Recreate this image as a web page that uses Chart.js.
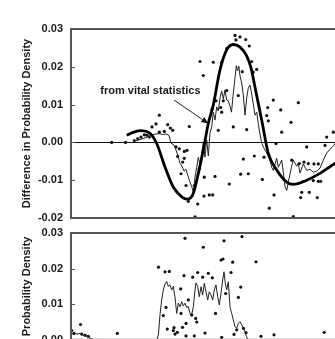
<!DOCTYPE html>
<html><head><meta charset="utf-8">
<script src="https://cdn.jsdelivr.net/npm/chart.js@4/dist/chart.umd.min.js"></script>
<style>
html,body{margin:0;padding:0;background:#fff;width:335px;height:339px;overflow:hidden;position:relative}
canvas{position:absolute;left:0}
#top{top:0}
#bot{top:226px}
</style></head><body>
<canvas id="top" width="345" height="225"></canvas>
<canvas id="bot" width="345" height="124"></canvas>
<script>
// ---- data (x in arbitrary horizontal units, y = probability density) ----
const topTicks = [-0.02, -0.01, 0, 0.01, 0.02, 0.03];
const bottomTicks = [0, 0.01, 0.02, 0.03];

const vitalX = [55.7,60.7,69,79,85.7,94,102.3,110.7,116.3,122.3,127.3,132.3,137.3,142.3,149,155.7,162.3,169,175.7,180,185,190.7,197.3,205.7,215.7,222.3,235.7,249,264,269];
const vitalY = [0.0019,0.0025,0.0031,0.0024,-0.0003,-0.0065,-0.0118,-0.0144,-0.0150,-0.0135,-0.0082,-0.0020,0.0050,0.0099,0.0192,0.0245,0.0259,0.0252,0.0229,0.0197,0.0133,0.0059,-0.0029,-0.0073,-0.0105,-0.0111,-0.0100,-0.0082,-0.0056,-0.0050];

const diffLineX = [62,67,72,76,79,84,89,92,95,98,100,103,105,107,109,111,113,115,117,119,121,122.5,124,125.7,127.3,129,130.7,132.3,134,135.7,137.3,139,140.7,142.3,144,145.7,147.3,149,150.7,152.3,154,155.7,157.3,159,160.5,162,164,165.3,166.5,167.8,169,170.7,172.3,174,175.7,177.3,179,180.7,182.3,184,185.7,187.3,189,190.7,192.3,195.7,199,200.7,202.3,205.7,207.3,210.7,212.3,214,215.7,217.3,220.7,222.3,225.7,227.3,229,232.3,235.7,239,242.3,245.7,249,252.3,255.7,259,262.3,265];
const diffLineY = [0.0002,0.0006,0.0010,0.0014,0.0017,0.0022,0.0023,0.0021,0.0022,0.0019,-0.0002,-0.0007,-0.0020,-0.0036,-0.0055,-0.0063,-0.0076,-0.0071,-0.0089,-0.0105,-0.0119,-0.0134,-0.0092,-0.0066,-0.0039,-0.0060,-0.0028,-0.0002,-0.0039,0.0006,-0.0036,0.0025,0.0041,0.0080,0.0059,0.0094,0.0083,0.0118,0.0136,0.0115,0.0139,0.0112,0.0110,0.0096,0.0080,0.0123,0.0171,0.0203,0.0189,0.0202,0.0176,0.0157,0.0125,0.0072,0.0118,0.0144,0.0152,0.0128,0.0102,0.0072,0.0080,0.0049,0.0022,-0.0002,-0.0012,-0.0028,-0.0047,-0.0066,-0.0074,-0.0042,-0.0066,-0.0047,-0.0079,-0.0116,-0.0127,-0.0105,-0.0063,-0.0047,-0.0063,-0.0055,-0.0081,-0.0057,-0.0074,-0.0071,-0.0079,-0.0076,-0.0068,-0.0047,-0.0028,-0.0018,-0.0010,0.0001];

const diffDotX = [40.7,54.5,63.3,66.7,70,73.3,76,78.3,81,85,88.3,88.3,93.3,96.7,99.3,101.7,105,108.3,113.3,116,106.7,113.3,111.7,110,115,118.3,123.3,117.3,126.7,124,128.3,133.3,144,133,138.3,141.7,158.3,129,132.3,142.3,150.7,155.7,164,169,174.7,165,178.3,180.7,185.7,182.3,171.3,167.3,145,141,149.7,150.7,155.7,147.3,162.3,175.7,202.3,227.3,196.7,209.7,195.7,197.3,220,210.7,205,235.7,255.7,262.3,254,172.3,183.3,193,169.7,177.3,191.3,203,230.7,238.3,229.7,246.3,198.3,222.3,232.3,242.3,247.3,249.7,247.3,243,233,237.3,228.3,220.7,152.3];
const diffDotY = [0.0000,0.0000,0.0005,0.0010,0.0014,0.0020,0.0019,0.0014,0.0041,0.0049,0.0072,0.0027,0.0029,0.0047,0.0038,0.0032,-0.0012,-0.0017,-0.0024,-0.0021,-0.0037,-0.0042,-0.0052,-0.0083,-0.0114,0.0042,-0.0114,-0.0156,-0.0163,-0.0197,-0.0070,-0.0092,-0.0090,-0.0142,-0.0139,-0.0139,-0.0110,0.0214,0.0177,0.0212,0.0212,0.0248,0.0283,0.0279,0.0272,0.0271,0.0255,0.0214,0.0193,0.0186,0.0187,0.0124,0.0110,0.0088,0.0092,0.0080,0.0137,0.0032,0.0041,0.0034,0.0112,0.0105,0.0092,0.0086,0.0071,0.0057,0.0053,0.0027,-0.0003,-0.0012,0.0014,0.0027,-0.0008,-0.0044,-0.0036,-0.0039,-0.0084,-0.0083,-0.0098,-0.0139,-0.0132,-0.0132,-0.0146,-0.0146,-0.0174,-0.0196,-0.0103,-0.0101,-0.0103,-0.0103,-0.0057,-0.0057,-0.0052,-0.0056,-0.0056,-0.0047,0.0110];

const densLineX = [0,3,6,9,12,15,18,22,86,87.5,89,90.7,92.3,94,95.7,97.3,99,100.7,102.3,104,105.7,107.3,109,110.7,112.3,114,115.7,117.3,119,120.7,122.3,124,125,126.7,128.3,130,131.7,133.3,135,136.7,138.3,140,141.7,143.3,145,146.7,148.3,150,151.7,153,154.3,155.7,157.3,159,160.7,162.3,164,165.7,167.3,169,170.7,172.3,174,175.5,177,269];
const densLineY = [0.0015,0.0019,0.0016,0.0018,0.0013,0.0011,0.0006,0.0001,0,0.0016,0.0071,0.0112,0.0140,0.0157,0.0164,0.0150,0.0154,0.0140,0.0150,0.0120,0.0074,0.0103,0.0093,0.0107,0.0095,0.0103,0.0091,0.0093,0.0074,0.0070,0.0093,0.0140,0.0160,0.0149,0.0121,0.0149,0.0126,0.0159,0.0135,0.0112,0.0135,0.0126,0.0112,0.0140,0.0154,0.0121,0.0098,0.0131,0.0168,0.0191,0.0159,0.0140,0.0163,0.0093,0.0074,0.0056,0.0037,0.0032,0.0046,0.0051,0.0042,0.0032,0.0023,0.0009,0,0];

const densDotX = [0.7,9.5,10.7,14,17.3,3,46.3,87.5,94,98.3,114,113,92.3,95,96.3,102.3,104,106.3,111.5,117.3,110,109.7,115,115,120.7,124.7,125.7,123.3,121.7,126.7,131.7,137.3,141.3,132.3,153,171,150,152,161.7,185,160,169.7,154.7,167.3,144.5,134,150.7,163,165.7,172.5,175,190,203,253.2,103];
const densDotY = [0.0026,0.0043,0.0016,0.0013,0.0010,0.0018,0.0018,0.0204,0.0191,0.0192,0.0285,0.0180,0.0068,0.0091,0.0030,0.0026,0.0016,0.0021,0.0035,0.0112,0.0074,0.0143,0.0046,0.0011,0.0070,0.0060,0.0050,0.0011,0.0176,0.0189,0.0176,0.0187,0.0174,0.0260,0.0278,0.0290,0.0224,0.0227,0.0218,0.0219,0.0189,0.0148,0.0130,0.0119,0.0074,0.0019,0.0007,0.0015,0.0028,0.0032,0.0020,0.0010,0.0014,0.0021,0.0034];

const noteText = 'from vital statistics';
const noteAt = [29.3, 0.0135];
const arrowFrom = [103, 0.0112];
const arrowTo = [137.3, 0.0050];

// ---- rendering ----
const pts = (xs, ys) => xs.map((x, i) => ({x, y: ys[i]}));
const FONT = {family: "'Liberation Sans', Arial, sans-serif", size: 11, weight: 'bold'};
const TXT = '#1a1a1a';

const marks = {
  id: 'marks',
  beforeDatasetsDraw(chart, args, o) {
    if (!o.zeroLine) return;
    const {ctx, chartArea: a, scales: {y}} = chart;
    const py = Math.round(y.getPixelForValue(0)) + 0.5;
    ctx.save(); ctx.strokeStyle = '#111'; ctx.lineWidth = 1;
    ctx.beginPath(); ctx.moveTo(a.left, py); ctx.lineTo(a.right, py); ctx.stroke();
    ctx.restore();
  },
  afterDraw(chart, args, o) {
    const {ctx, chartArea: a, scales: {x, y}} = chart;
    ctx.save();
    ctx.strokeStyle = '#555'; ctx.lineWidth = 2;
    ctx.strokeRect(a.left, a.top, a.right - a.left, a.bottom - a.top);
    ctx.lineWidth = 1;
    y.ticks.forEach(t => {
      const py = Math.round(y.getPixelForValue(t.value)) + 0.5;
      ctx.beginPath(); ctx.moveTo(a.left, py); ctx.lineTo(a.left + 4, py); ctx.stroke();
    });
    if (o.note) {
      ctx.fillStyle = TXT;
      ctx.font = "bold 11px 'Liberation Sans', Arial, sans-serif";
      ctx.textAlign = 'left'; ctx.textBaseline = 'middle';
      ctx.fillText(noteText, x.getPixelForValue(noteAt[0]), y.getPixelForValue(noteAt[1]));
      const x0 = x.getPixelForValue(arrowFrom[0]), y0 = y.getPixelForValue(arrowFrom[1]);
      const x1 = x.getPixelForValue(arrowTo[0]), y1 = y.getPixelForValue(arrowTo[1]);
      const ang = Math.atan2(y1 - y0, x1 - x0), L = 7, W = 3;
      const bx = x1 - L * Math.cos(ang), by = y1 - L * Math.sin(ang);
      ctx.strokeStyle = '#222'; ctx.lineWidth = 1;
      ctx.beginPath(); ctx.moveTo(x0, y0); ctx.lineTo(bx, by); ctx.stroke();
      ctx.fillStyle = '#111';
      ctx.beginPath(); ctx.moveTo(x1, y1);
      ctx.lineTo(bx + W * Math.sin(ang), by - W * Math.cos(ang));
      ctx.lineTo(bx - W * Math.sin(ang), by + W * Math.cos(ang));
      ctx.closePath(); ctx.fill();
    }
    ctx.restore();
  }
};

function yAxis(min, max, ticks, title) {
  return {
    min, max,
    afterBuildTicks: s => { s.ticks = ticks.map(v => ({value: v})); },
    afterFit: s => { s.width = 71; s.paddingTop = 0; s.paddingBottom = 0; },
    grid: {display: false, drawTicks: false},
    border: {display: false},
    ticks: {padding: 8, color: TXT, font: FONT, callback: v => Number(v).toFixed(2)},
    title: {display: true, text: title, color: TXT, font: FONT, padding: {top: 20, bottom: 0}}
  };
}

function common(padTop, padBottom, y, pluginOpts) {
  return {
    responsive: false, animation: false, devicePixelRatio: 1,
    layout: {autoPadding: false, padding: {left: 0, right: 8, top: padTop, bottom: padBottom}},
    plugins: {legend: {display: false}, tooltip: {enabled: false}, marks: pluginOpts},
    scales: {x: {type: 'linear', min: 0, max: 266, display: false}, y}
  };
}

new Chart(document.getElementById('top'), {
  type: 'scatter',
  data: {datasets: [
    {data: pts(vitalX, vitalY), showLine: true, borderColor: '#000', borderWidth: 2.8, pointRadius: 0, tension: 0.4, cubicInterpolationMode: 'monotone'},
    {data: pts(diffLineX, diffLineY), showLine: true, borderColor: '#222', borderWidth: 1, pointRadius: 0, tension: 0},
    {data: pts(diffDotX, diffDotY), showLine: false, pointRadius: 1.6, pointBackgroundColor: '#111', pointBorderWidth: 0}
  ]},
  options: common(29, 7, yAxis(-0.02, 0.03, topTicks, 'Difference in Probability Density'), {zeroLine: true, note: true}),
  plugins: [marks]
});

new Chart(document.getElementById('bot'), {
  type: 'scatter',
  data: {datasets: [
    {data: pts(densLineX, densLineY), showLine: true, borderColor: '#222', borderWidth: 1, pointRadius: 0, tension: 0},
    {data: pts(densDotX, densDotY), showLine: false, pointRadius: 1.6, pointBackgroundColor: '#111', pointBorderWidth: 0}
  ]},
  options: common(7, 10.2, yAxis(0, 0.03, bottomTicks, 'Probability Density'), {zeroLine: false, note: false}),
  plugins: [marks]
});
</script>
</body></html>
